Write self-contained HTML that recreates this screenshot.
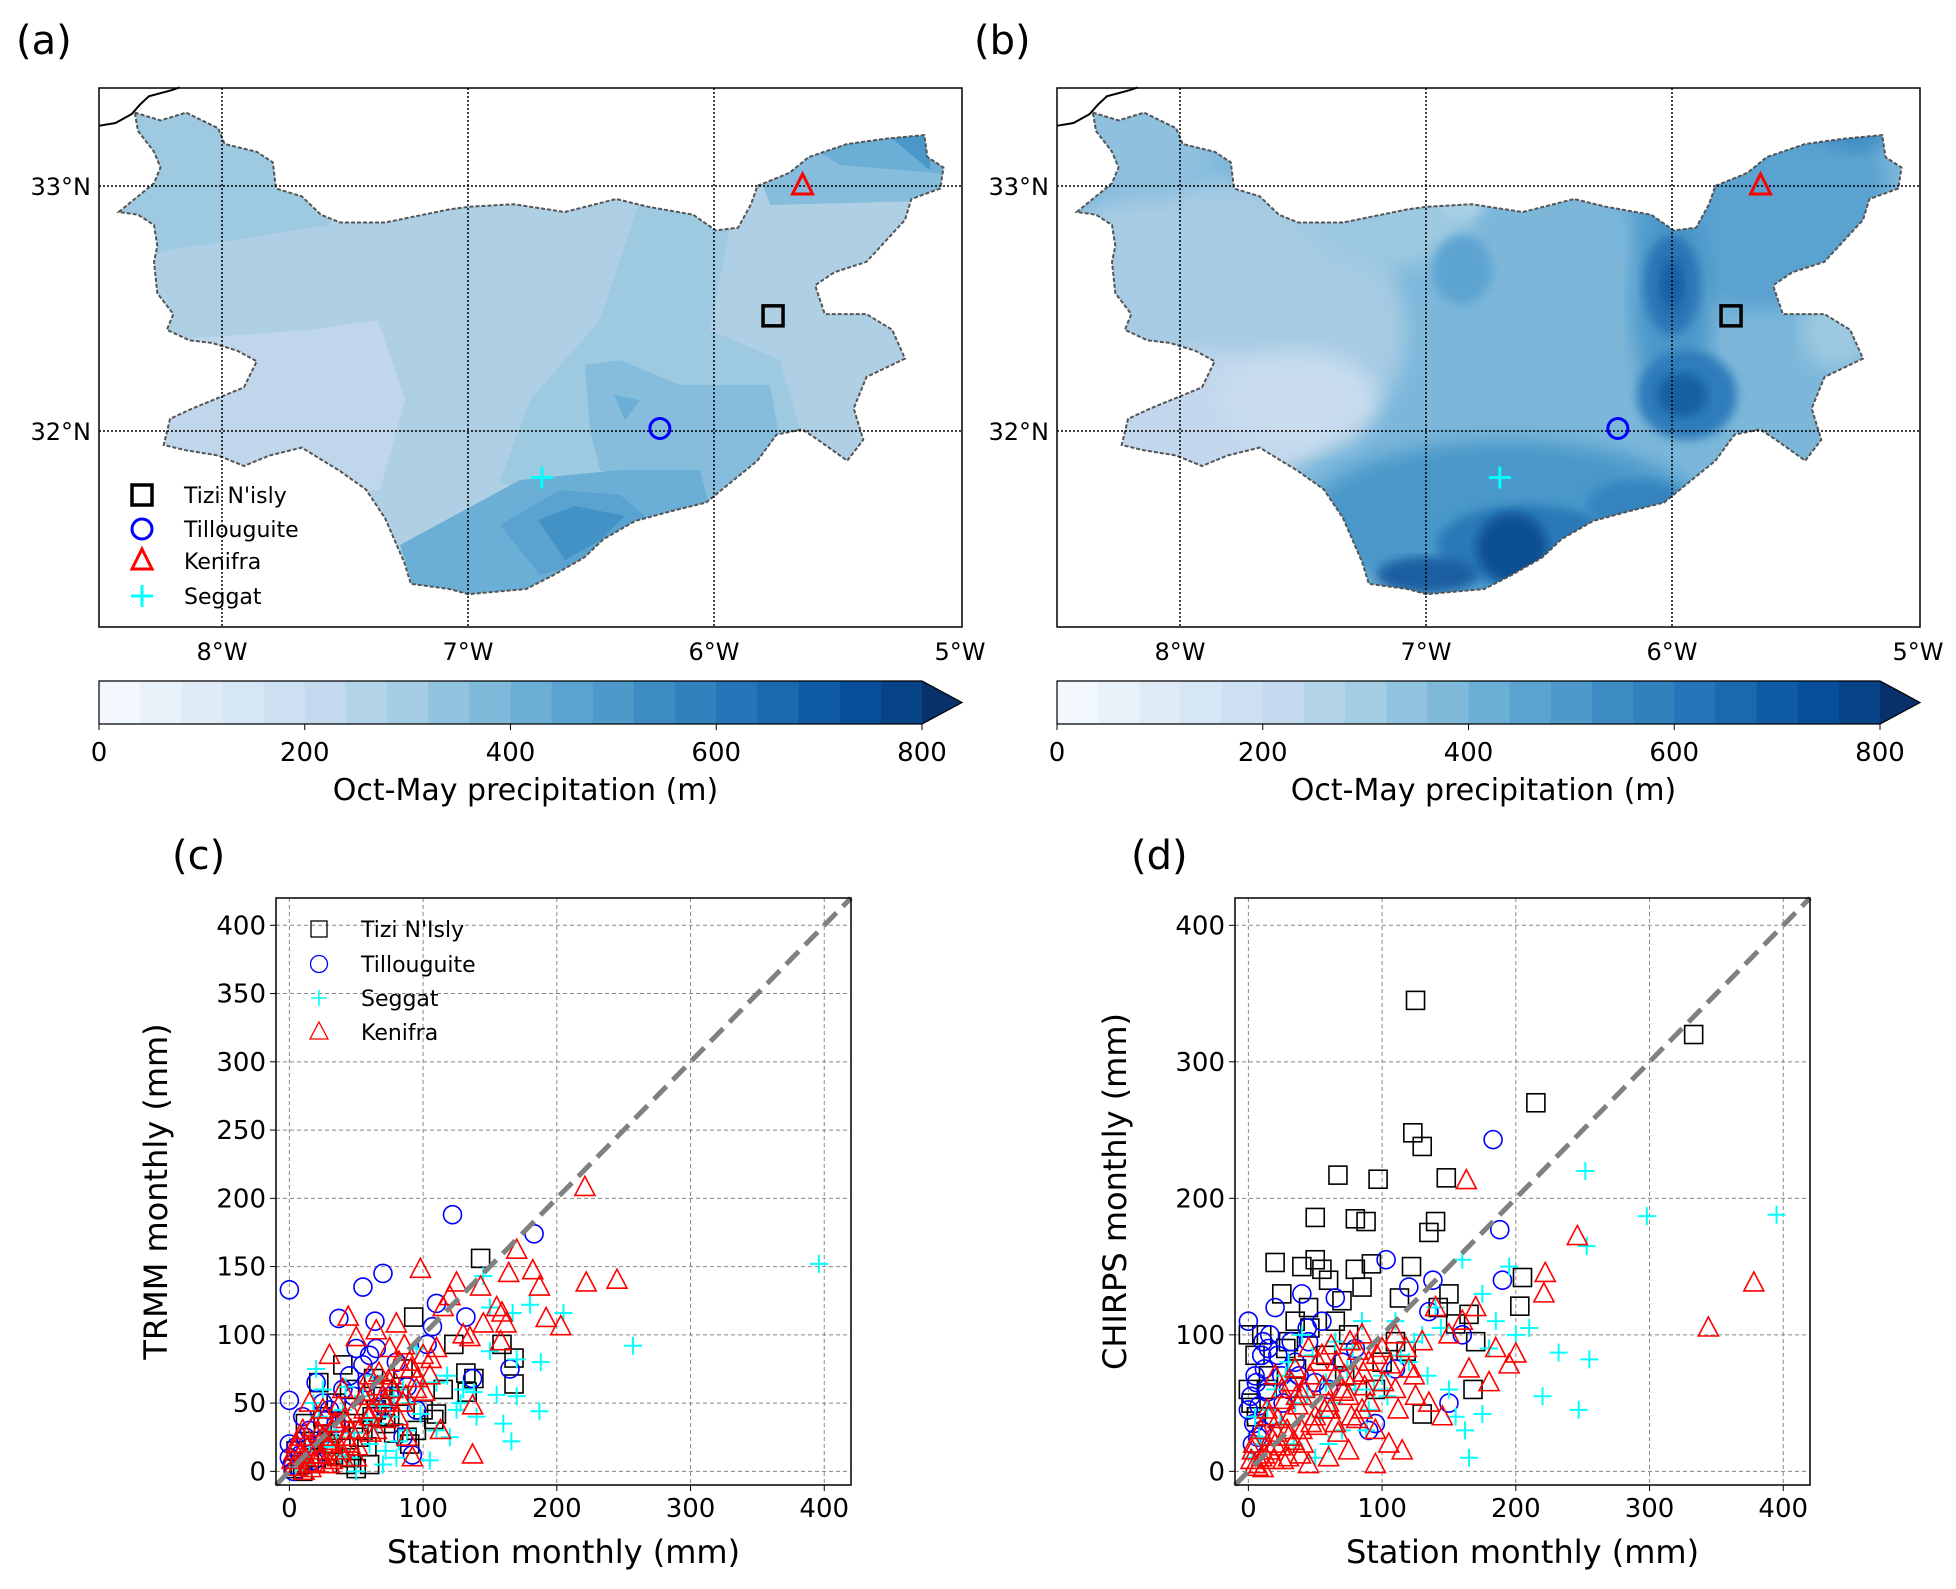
<!DOCTYPE html>
<html><head><meta charset="utf-8"><style>
html,body{margin:0;padding:0;background:#fff}
svg text{font-family:"DejaVu Sans","Liberation Sans",sans-serif}
</style></head><body>
<svg id="fig" xmlns="http://www.w3.org/2000/svg" width="1956" height="1584" viewBox="0 0 1956 1584">
<defs>
<clipPath id="clipA"><path id="basinA"/></clipPath>
<clipPath id="clipB"><path id="basinB"/></clipPath>
<filter id="blur8"><feGaussianBlur stdDeviation="10"/></filter>
<filter id="blur4"><feGaussianBlur stdDeviation="5"/></filter>
</defs>
<g id="root"></g>
</svg>
<script>
const NS="http://www.w3.org/2000/svg";
const root=document.getElementById('root');
function mk(tag,attrs,parent){const e=document.createElementNS(NS,tag);for(const k in attrs)e.setAttribute(k,attrs[k]);(parent||root).appendChild(e);return e;}
function txt(s,x,y,size,anchor,parent,extra){const t=mk('text',Object.assign({x:x,y:y,'font-size':size,'text-anchor':anchor||'middle',fill:'#000'},extra||{}),parent);t.textContent=s;return t;}

// ---------- colormap (Blues) ----------
const bluesStops=['#f7fbff','#deebf7','#c6dbef','#9ecae1','#6baed6','#4292c6','#2171b5','#08519c','#08306b'];
function hex2rgb(h){return [1,3,5].map(i=>parseInt(h.substr(i,2),16));}
function blues(t){t=Math.max(0,Math.min(1,t));const p=t*8,i=Math.min(7,Math.floor(p)),f=p-i;const a=hex2rgb(bluesStops[i]),b=hex2rgb(bluesStops[i+1]);return 'rgb('+a.map((v,k)=>Math.round(v+(b[k]-v)*f)).join(',')+')';}

// ---------- map data ----------
const basinOutline=[[210,215],[250,230],[290,215],[340,245],[350,275],[400,290],[425,310],[430,360],[470,375],[500,410],[530,425],[600,425],[700,400],[730,395],[800,390],[880,405],[960,380],[1010,395],[1080,410],[1115,440],[1150,435],[1170,390],[1180,355],[1230,330],[1260,300],[1320,275],[1380,265],[1440,258],[1445,300],[1470,320],[1465,360],[1420,380],[1410,420],[1350,500],[1300,520],[1270,545],[1285,600],[1350,600],[1390,630],[1410,685],[1350,720],[1330,780],[1345,840],[1320,880],[1280,845],[1250,820],[1210,830],[1180,880],[1130,930],[1100,960],[1050,975],[990,995],[940,1030],[910,1065],[860,1100],[820,1125],[730,1135],[700,1125],[640,1115],[630,1075],[600,990],[570,935],[530,900],[470,855],[420,870],[380,890],[340,870],[290,860],[255,850],[265,800],[300,780],[340,760],[380,740],[400,690],[370,670],[330,655],[295,650],[260,630],[270,600],[245,560],[240,500],[245,470],[240,430],[215,410],[185,405],[220,370],[240,350],[250,320],[240,290],[215,250]];
const coastLine=[[155,240],[180,235],[205,218],[218,200],[232,184],[268,172],[280,167]];
const stationNames=["Tizi N'isly","Tillouguite","Kenifra","Seggat"];
const stationLon=[-5.76,-6.22,-5.64,-6.70];
const stationLat=[32.47,32.01,33.0,31.81];

const mapTop=88,mapBot=627,mapW=863,pxPerDeg=246,latTop=33.4,lonLeft=-8.5;
function lonX(ox,lon){return ox+(lon-lonLeft)*pxPerDeg;}
function latY(lat){return mapTop+(latTop-lat)*245;}
function zp(ox,p){return [(ox-99)+p[0]/1.558,p[1]/1.91];}
function pathFrom(ox,pts,close){return pts.map((p,i)=>{const q=zp(ox,p);return (i?'L':'M')+q[0].toFixed(1)+','+q[1].toFixed(1);}).join('')+(close?'Z':'');}

function drawMap(ox,label,clipId,basinId,fillsFn,nm){
  const g=mk('g',{});
  txt(label,16+(ox-99),54,40,'start',g);
  document.getElementById(basinId).setAttribute('d',pathFrom(ox,basinOutline,true));
  const fg=mk('g',{'clip-path':'url(#'+clipId+')'},g);
  
  
  fillsFn(fg,ox);
  const outline=mk('path',{d:pathFrom(ox,basinOutline,true),fill:'none',stroke:'#555',"stroke-width":2,"stroke-dasharray":"4,2"},g);
  
  
  const coast=mk('path',{d:pathFrom(ox,coastLine,false),fill:'none',stroke:'#000',"stroke-width":2},g);
  
  
  [-8,-7,-6].forEach(l=>{const x=lonX(ox,l);const ln=mk('line',{x1:x,x2:x,y1:mapTop,y2:mapBot,stroke:'#000','stroke-width':1.5,'stroke-dasharray':'2,2'},g);});
  [33,32].forEach(l=>{const y=latY(l);const ln=mk('line',{x1:ox,x2:ox+mapW,y1:y,y2:y,stroke:'#000','stroke-width':1.5,'stroke-dasharray':'2,2'},g);});
  const fr=mk('rect',{x:ox,y:mapTop,width:mapW,height:mapBot-mapTop,fill:'none',stroke:'#000','stroke-width':1.5},g);
  
  [-8,-7,-6,-5].forEach(l=>{const t=txt((-l)+'°W',lonX(ox,l),660,24,'middle',g);});
  [33,32].forEach(l=>{const t=txt(l+'°N',ox-8,latY(l)+9,24,'end',g);});
  drawStationMarker(g,0,lonX(ox,stationLon[0]),latY(stationLat[0]),'station-tizi');
  drawStationMarker(g,1,lonX(ox,stationLon[1]),latY(stationLat[1]),'station-tillouguite');
  drawStationMarker(g,2,lonX(ox,stationLon[2]),latY(stationLat[2]),'station-kenifra');
  drawStationMarker(g,3,lonX(ox,stationLon[3]),latY(stationLat[3]),'station-seggat');
  const cb=mk('g',{},g);
  const cbL=ox,cbR=ox+823,cbT=681,cbB=724,n=20,w=(cbR-cbL)/n;
  for(let i=0;i<n;i++){mk('rect',{x:cbL+i*w,y:cbT,width:w+0.5,height:cbB-cbT,fill:blues((i+0.5)/21)},cb);}
  mk('path',{d:`M${cbR},${cbT}L${cbR+40},${(cbT+cbB)/2}L${cbR},${cbB}Z`,fill:blues(1)},cb);
  mk('path',{d:`M${cbL},${cbT}L${cbR},${cbT}L${cbR+40},${(cbT+cbB)/2}L${cbR},${cbB}L${cbL},${cbB}Z`,fill:'none',stroke:'#000','stroke-width':1.2},cb);
  [0,200,400,600,800].forEach(v=>{const x=cbL+v/800*(cbR-cbL);mk('line',{x1:x,x2:x,y1:cbB,y2:cbB+6,stroke:'#000'},cb);txt(String(v),x,761,26,'middle',cb);});
  txt('Oct-May precipitation (m)',cbL+(cbR-cbL)/2+15,800,30,'middle',cb);
}
function drawStationMarker(g,k,x,y,name){
  let e;
  if(k===0)e=mk('rect',{x:x-10,y:y-10,width:20,height:20,fill:'none',stroke:'#000','stroke-width':3.5},g);
  else if(k===1)e=mk('circle',{cx:x,cy:y,r:10,fill:'none',stroke:'#0000ff','stroke-width':3},g);
  else if(k===2)e=mk('path',{d:`M${x},${y-12}L${x+10},${y+8}L${x-10},${y+8}Z`,fill:'none',stroke:'#ff0000','stroke-width':3},g);
  else e=mk('path',{d:`M${x-11},${y}H${x+11}M${x},${y-11}V${y+11}`,stroke:'#00ffff','stroke-width':3},g);
  
  return e;
}
function blob(g,cx,cy,rx,ry,col,blur){mk('ellipse',{cx:cx,cy:cy,rx:rx,ry:ry,fill:col,filter:blur?'url(#'+blur+')':''},g);}

function fillsA(g,ox){
  const d=ox-99;
  mk('rect',{x:ox,y:mapTop,width:mapW,height:mapBot-mapTop,fill:'#aecfe4'},g);
  mk('path',{d:`M${d+99},${mapTop}L${d+340},${mapTop}L${d+330},${225}L${d+170},${250}L${d+99},${270}Z`,fill:'#9ecae1'},g);
  mk('path',{d:`M${d+99},${345}L${d+310},${330}L${d+378},${320}L${d+405},${400}L${d+380},${490}L${d+99},${500}Z`,fill:'#c0d6eb'},g);
  mk('path',{d:`M${d+640},${200}L${d+735},${200}L${d+710},${330}L${d+780},${360}L${d+800},${430}L${d+735},${440}L${d+700},${480}L${d+600},${560}L${d+500},${480}L${d+530},${400}L${d+600},${320}Z`,fill:'#9ecae1'},g);
  mk('path',{d:`M${d+740},${120}L${d+962},${100}L${d+962},${200}L${d+770},${205}Z`,fill:'#86bcdc'},g);
  mk('path',{d:`M${d+800},${140}L${d+962},${130}L${d+962},${175}L${d+840},${165}Z`,fill:'#6baed6'},g);
  mk('path',{d:`M${d+870},${120}L${d+930},${130}L${d+930},${170}Z`,fill:'#4a98c9'},g);
  mk('path',{d:`M${d+585},${365}L${d+620},${360}L${d+680},${385}L${d+770},${385}L${d+780},${440}L${d+700},${510}L${d+600},${470}L${d+590},${430}Z`,fill:'#86bcdc'},g);
  mk('path',{d:`M${d+400},${545}L${d+520},${480}L${d+620},${470}L${d+700},${470}L${d+720},${550}L${d+600},${600}L${d+420},${610}Z`,fill:'#6baed6'},g);
  mk('path',{d:`M${d+500},${525}L${d+560},${490}L${d+620},${495}L${d+650},${520}L${d+590},${560}L${d+540},${575}Z`,fill:'#5aa2d0'},g);
  mk('path',{d:`M${d+538},${520}L${d+575},${506}L${d+625},${516}L${d+600},${540}L${d+565},${560}Z`,fill:'#4292c6'},g);
  mk('path',{d:`M${d+614},${395}L${d+640},${400}L${d+625},${420}Z`,fill:'#6baed6'},g);
}
function fillsB(g,ox){
  mk('rect',{x:ox,y:mapTop,width:mapW,height:mapBot-mapTop,fill:'#7cb7da'},g);
  blob(g,ox+150,330,200,150,'#a6cbe3','blur8');
  blob(g,ox+130,420,140,70,'#c2d7ec','blur8');
  blob(g,ox+240,400,80,50,'#c8dcee','blur8');
  blob(g,ox+90,140,70,60,'#8fc0de','blur8');
  blob(g,ox+330,200,90,70,'#9cc9e0','blur8');
  blob(g,ox+405,180,30,40,'#a9cfe4','blur4');
  blob(g,ox+405,270,30,35,'#5da4d1','blur4');
  blob(g,ox+700,190,130,120,'#5aa2d0','blur8');
  blob(g,ox+800,110,50,40,'#3e8cc3','blur8');
  blob(g,ox+815,105,20,25,'#1c62a6','blur4');
  blob(g,ox+615,300,40,110,'#4b98c9','blur8');
  blob(g,ox+615,285,28,50,'#2a75b5','blur4');
  blob(g,ox+615,285,12,25,'#125fa5','blur4');
  blob(g,ox+630,395,50,45,'#2f7bbb','blur4');
  blob(g,ox+625,395,25,22,'#155ea2','blur4');
  blob(g,ox+780,330,35,40,'#9cc9e0','blur8');
  blob(g,ox+450,520,200,80,'#4a98c9','blur8');
  blob(g,ox+470,545,90,40,'#2a78b7','blur4');
  blob(g,ox+455,548,35,35,'#0f4f93','blur4');
  blob(g,ox+370,575,50,18,'#1a5ea1','blur4');
  blob(g,ox+580,505,50,25,'#3584c0','blur4');
}
drawMap(99,'(a)','clipA','basinA',fillsA,'a');
drawMap(1057,'(b)','clipB','basinB',fillsB,'b');

(function(){
  const g=mk('g',{});
  const ys=[495,529,561,596];
  [0,1,2,3].forEach(k=>{drawStationMarker(g,k,142,ys[k],'map-legend-marker');txt(['Tizi N\'isly','Tillouguite','Kenifra','Seggat'][k],184,ys[k]+8,22,'start',g);});
})();

// ---------- scatter data ----------
const seriesNames=["Tizi N'Isly","Tillouguite","Seggat","Kenifra"];
// Panel (c): TRMM vs station
const cTiziX=[143,93,123,132,138,159,168,168,133,108,110,82,63,40,22,12,30,45,60,50,75,90,100,55,20,8,35,70,95,115,85,65,25,45,5,15,28,38,52,62,72,88,18,33,48,58,78,3,10,42];
const cTiziY=[156,113,93,72,68,93,83,64,58,38,42,55,68,78,65,35,20,10,5,2,40,20,45,30,10,5,50,60,30,60,75,45,40,60,15,8,15,30,25,40,35,25,22,12,35,18,28,2,0,5];
const cTillX=[0,0,122,183,37,55,70,64,110,107,132,103,165,137,92,20,50,55,60,30,10,0,0,40,75,85,15,25,65,45,80,5,2,8,12,18,35,48,58,70,88,95,3,22,28];
const cTillY=[133,52,188,174,112,135,145,110,123,106,113,93,75,68,12,65,90,78,85,45,40,20,10,60,55,25,30,50,90,70,80,18,5,12,25,8,35,55,65,48,62,45,0,20,38];
const cSegX=[396,257,145,205,180,167,150,170,188,187,166,155,170,160,150,130,125,140,110,105,110,120,90,75,70,80,60,45,30,20,40,55,100,85,65,15,10,35,50,95,5,12,22,28,38,48,58,68,78,88,98,118,128,138,42,62,72,82,18,25];
const cSegY=[152,92,143,116,122,116,120,82,80,44,22,56,55,35,88,60,45,40,65,8,30,25,50,40,5,10,20,10,30,75,45,55,65,60,35,15,5,25,0,90,3,8,40,18,12,28,38,48,55,30,42,70,50,58,62,70,15,22,50,60];
const cKenX=[221,222,245,98,125,143,164,170,182,187,192,203,159,155,162,145,135,158,137,113,137,44,50,30,65,80,100,115,120,90,75,60,55,40,25,15,10,5,20,35,45,70,85,95,105,65,50,30,15,3,8,60,75,88,92,130,110,40,25,2,4,6,9,12,14,17,19,22,24,27,29,32,34,37,39,42,47,52,57,62,67,72,77,82,87,11,16,21,26,31,36,41,46,51,56,61,66,71,76,81,86,91,96,101,106];
const cKenY=[208,138,140,148,138,135,145,162,147,135,112,106,116,120,108,108,98,95,48,30,12,113,98,85,103,108,85,120,128,80,90,70,55,60,45,50,30,20,15,35,20,55,50,60,70,30,10,5,5,3,12,40,65,25,10,100,90,10,25,8,15,3,25,10,18,32,6,28,12,40,20,8,35,48,15,25,42,30,58,45,72,38,60,80,55,0,2,12,5,22,10,38,30,18,45,28,62,50,70,40,92,75,68,58,82];
// Panel (d): CHIRPS vs station
const dTiziX=[125,333,215,123,130,67,97,148,140,135,80,88,50,20,40,50,55,80,92,122,165,205,203,150,113,70,60,25,10,0,5,0,168,130,100,45,35,75,110,155,170,85,65,2,6,14,28,36,46,58,72,95,118,142,15,30];
const dTiziY=[345,320,270,248,238,217,214,215,183,175,185,183,186,153,150,155,148,148,152,150,115,142,121,130,127,125,140,130,100,100,85,60,60,42,80,120,110,100,95,108,95,135,110,50,40,60,90,75,105,85,70,60,88,120,70,95];
const dTillX=[183,188,103,138,190,0,10,20,45,65,40,120,135,150,95,90,30,5,15,55,80,0,10,25,70,110,160,60,2,4,6,8,12,14,18,22,26,32,38,44,50,3,7,11,16,35];
const dTillY=[243,177,155,140,140,110,85,120,95,127,130,135,117,50,35,30,60,70,90,110,90,45,30,70,80,75,100,60,55,35,65,48,75,58,40,85,50,95,70,105,65,20,25,95,100,80];
const dSegX=[252,298,395,253,232,255,220,247,210,185,175,180,160,165,155,162,150,130,120,100,90,70,60,50,40,30,20,10,80,110,140,195,175,200,5,35,65,85,3,8,14,24,28,34,44,48,54,58,64,74,78,88,94,104,114,124,134,144];
const dSegY=[220,187,188,165,87,82,55,45,105,110,130,90,155,10,40,30,60,100,80,70,45,30,20,10,100,80,60,20,60,110,120,150,42,100,40,50,95,110,10,25,45,35,70,20,55,85,40,65,50,75,90,30,60,55,85,95,70,105];
const dKenX=[163,378,344,246,222,221,200,195,185,170,160,150,140,130,120,110,100,90,80,70,60,50,40,30,20,10,5,15,25,35,45,55,65,75,85,95,105,115,135,145,95,75,60,45,30,85,110,125,165,180,65,40,20,3,2,4,7,9,12,14,17,19,22,24,27,29,32,34,37,39,42,47,52,57,62,67,72,77,82,87,11,16,21,26,31,36,41,46,51,56,61,66,71,76,81,86,91,96,101,106,112,118,124];
const dKenY=[213,138,105,172,145,130,86,78,90,120,110,100,120,95,75,100,90,80,70,60,50,40,30,25,20,10,5,40,60,75,90,85,70,55,45,30,20,15,50,40,5,15,10,5,10,100,60,55,75,65,35,55,70,15,8,20,3,30,12,45,25,8,38,18,52,30,65,22,48,12,60,35,80,45,92,28,70,40,88,62,2,15,28,8,40,55,20,70,33,62,45,80,58,95,38,72,50,85,65,78,45,90,70];
const axisTicksX=[0,100,200,300,400];
const axisTicksY=[0,50,100,150,200,250,300,350,400];
const axisTicksYd=[0,100,200,300,400];

function scatterPanel(ox,label,ylab,ticksY,data,nm,showLegend){
  const L=ox,R=ox+575,T=898,B=1485,vmin=-10,vmax=420;
  const sx=v=>L+(v-vmin)/(vmax-vmin)*(R-L);
  const sy=v=>B-(v-vmin)/(vmax-vmin)*(B-T);
  const g=mk('g',{});
  txt(label,L-104,869,40,'start',g);
  const grid=mk('g',{},g);
  axisTicksX.forEach(v=>mk('line',{x1:sx(v),x2:sx(v),y1:T,y2:B,stroke:'#888','stroke-width':1,'stroke-dasharray':'4,3'},grid));
  ticksY.forEach(v=>mk('line',{x1:L,x2:R,y1:sy(v),y2:sy(v),stroke:'#888','stroke-width':1,'stroke-dasharray':'4,3'},grid));
  const pts=mk('g',{},g);
  for(let i=0;i<data[0][0].length;i++){const x=sx(data[0][0][i]),y=sy(data[0][1][i]);const e=mk('rect',{x:x-9,y:y-9,width:18,height:18,fill:'none',stroke:'#000','stroke-width':1.6},pts);}
  for(let i=0;i<data[1][0].length;i++){const x=sx(data[1][0][i]),y=sy(data[1][1][i]);const e=mk('circle',{cx:x,cy:y,r:9,fill:'none',stroke:'#0000ff','stroke-width':1.6},pts);}
  for(let i=0;i<data[2][0].length;i++){const x=sx(data[2][0][i]),y=sy(data[2][1][i]);const e=mk('path',{d:`M${x-9},${y}H${x+9}M${x},${y-9}V${y+9}`,stroke:'#00ffff','stroke-width':2},pts);}
  for(let i=0;i<data[3][0].length;i++){const x=sx(data[3][0][i]),y=sy(data[3][1][i]);const e=mk('path',{d:`M${x},${y-11}L${x+10},${y+8}L${x-10},${y+8}Z`,fill:'none',stroke:'#ff0000','stroke-width':1.6},pts);}
  const one=mk('line',{x1:sx(vmin),y1:sy(vmin),x2:sx(vmax),y2:sy(vmax),stroke:'#808080','stroke-width':5,'stroke-dasharray':'18,9'},g);
  
  const fr=mk('rect',{x:L,y:T,width:R-L,height:B-T,fill:'none',stroke:'#000','stroke-width':1.5},g);
  
  axisTicksX.forEach(v=>{mk('line',{x1:sx(v),x2:sx(v),y1:B,y2:B+6,stroke:'#000'},g);txt(String(v),sx(v),B+32,26,'middle',g);});
  ticksY.forEach(v=>{mk('line',{x1:L-6,x2:L,y1:sy(v),y2:sy(v),stroke:'#000'},g);txt(String(v),L-10,sy(v)+9,26,'end',g);});
  txt('Station monthly (mm)',(L+R)/2,1563,32,'middle',g);
  const yl=txt(ylab,0,0,32,'middle',g,{transform:`translate(${L-109},${(T+B)/2}) rotate(-90)`});
  if(showLegend){
    const lg=mk('g',{},g);
    const ly=[929,964,998,1032],lx=L+43;
    mk('rect',{x:lx-8,y:ly[0]-8,width:16,height:16,fill:'none',stroke:'#000','stroke-width':1.3},lg);
    mk('circle',{cx:lx,cy:ly[1],r:8.5,fill:'none',stroke:'#0000ff','stroke-width':1.3},lg);
    mk('path',{d:`M${lx-8},${ly[2]}H${lx+8}M${lx},${ly[2]-8}V${ly[2]+8}`,stroke:'#00ffff','stroke-width':1.6},lg);
    mk('path',{d:`M${lx},${ly[3]-10}L${lx+9},${ly[3]+7}L${lx-9},${ly[3]+7}Z`,fill:'none',stroke:'#ff0000','stroke-width':1.3},lg);
    seriesNames.forEach((s,k)=>txt(s,L+85,ly[k]+8,22,'start',lg));
  }
}
scatterPanel(276,'(c)','TRMM monthly (mm)',axisTicksY,[[cTiziX,cTiziY],[cTillX,cTillY],[cSegX,cSegY],[cKenX,cKenY]],'c',true);
scatterPanel(1235,'(d)','CHIRPS monthly (mm)',axisTicksYd,[[dTiziX,dTiziY],[dTillX,dTillY],[dSegX,dSegY],[dKenX,dKenY]],'d',false);
</script>
</body></html>
